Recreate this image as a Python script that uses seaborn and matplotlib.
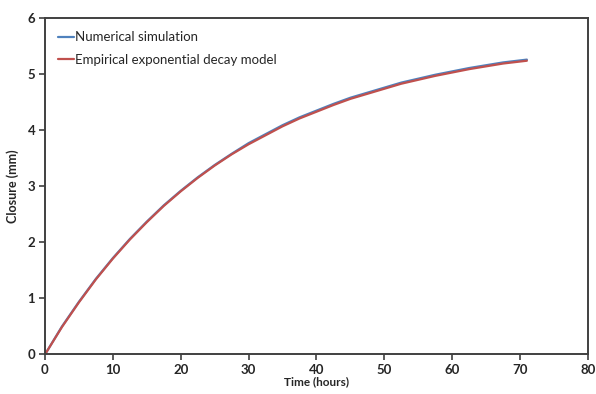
import matplotlib
matplotlib.use("Agg")
import matplotlib.pyplot as plt
import seaborn as sns
import pandas as pd

time_hours = [0, 2.5, 5, 7.5, 10, 12.5, 15, 17.5, 20, 22.5, 25, 27.5, 30, 32.5, 35, 37.5,
              40, 42.5, 45, 47.5, 50, 52.5, 55, 57.5, 60, 62.5, 65, 67.5, 71]
numerical = [0, 0.50, 0.94, 1.35, 1.72, 2.06, 2.37, 2.66, 2.92, 3.16, 3.38, 3.58, 3.77, 3.93,
             4.09, 4.23, 4.35, 4.47, 4.58, 4.67, 4.76, 4.85, 4.92, 4.99, 5.05, 5.11, 5.16, 5.21, 5.26]
empirical = [0, 0.49, 0.93, 1.34, 1.71, 2.05, 2.36, 2.65, 2.91, 3.15, 3.37, 3.57, 3.75, 3.91,
             4.07, 4.21, 4.33, 4.45, 4.56, 4.65, 4.74, 4.83, 4.90, 4.97, 5.03, 5.09, 5.14, 5.19, 5.24]
series_names = ["Numerical simulation", "Empirical exponential decay model"]
x_ticks = [0, 10, 20, 30, 40, 50, 60, 70, 80]
y_ticks = [0, 1, 2, 3, 4, 5, 6]

df = pd.concat([
    pd.DataFrame({"t": time_hours, "y": numerical, "s": series_names[0]}),
    pd.DataFrame({"t": time_hours, "y": empirical, "s": series_names[1]}),
])

sns.set_theme(style="white")
plt.rcParams["font.family"] = ["Lato", "DejaVu Sans"]

fig = plt.figure(figsize=(5.96, 3.94), dpi=100)
ax = fig.add_axes([0.0755, 0.1003, 0.911, 0.8537])

sns.lineplot(data=df, x="t", y="y", hue="s", hue_order=series_names,
             palette=["#4f81bd", "#c0504d"], linewidth=1.6, ax=ax, sort=False)

ax.set_xlim(0, 80)
ax.set_ylim(0, 6)
ax.set_xticks(x_ticks)
ax.set_yticks(y_ticks)
ax.tick_params(axis="both", direction="out", length=4, width=1.2, color="#404040",
               labelsize=9.5, pad=3, bottom=True, left=True)
for lab in ax.get_xticklabels() + ax.get_yticklabels():
    lab.set_fontweight("bold")
for sp in ax.spines.values():
    sp.set_color("#404040")
    sp.set_linewidth(1.4)

ax.set_xlabel("Time (hours)", fontsize=8.5, fontweight="bold", labelpad=0)
ax.set_ylabel("Closure (mm)", fontsize=9, fontweight="bold", labelpad=6)

leg = ax.legend(loc="upper left", frameon=False, fontsize=9.5, handlelength=1.2,
                handletextpad=0.1, labelspacing=0.8, borderaxespad=0.6)

fig.savefig("out.png", dpi=100)
